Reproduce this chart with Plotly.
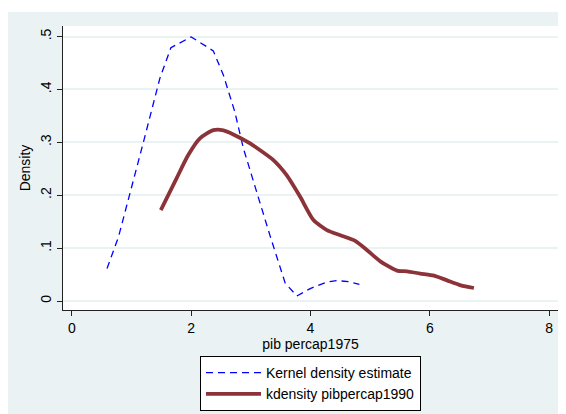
import plotly.graph_objects as go

# Kernel density estimate (pib percap1975)
x_1975 = [0.588, 0.78, 1.193, 1.474, 1.659, 2.0, 2.37, 2.54, 2.73, 2.874, 3.32, 3.575, 3.77, 3.995, 4.275, 4.44, 4.64, 4.82]
y_1975 = [0.0613, 0.121, 0.298, 0.421, 0.479, 0.4994, 0.473, 0.427, 0.358, 0.289, 0.124, 0.034, 0.0095, 0.0235, 0.036, 0.0386, 0.0367, 0.0316]

# kdensity pibpercap1990
x_1990 = [1.49, 1.754, 1.95, 2.146, 2.37, 2.54, 2.706, 2.987, 3.378, 3.6, 3.827, 4.05, 4.275, 4.5, 4.75, 4.95, 5.17, 5.45, 5.62, 5.84, 6.07, 6.29, 6.52, 6.74]
y_1990 = [0.172, 0.232, 0.276, 0.3075, 0.323, 0.3227, 0.315, 0.298, 0.2665, 0.238, 0.197, 0.153, 0.134, 0.1244, 0.1136, 0.096, 0.075, 0.0574, 0.0561, 0.0519, 0.048, 0.039, 0.0297, 0.0246]

x_ticks = [0, 2, 4, 6, 8]
y_ticks = [0, 0.1, 0.2, 0.3, 0.4, 0.5]
y_ticktext = ["0", ".1", ".2", ".3", ".4", ".5"]

FONT = "Arial, 'Liberation Sans', sans-serif"
BG = "#eaf2f3"

fig = go.Figure()
fig.add_trace(go.Scatter(
    x=x_1975, y=y_1975, mode="lines", name="Kernel density estimate",
    line=dict(color="#0000ff", width=1.3, dash="7px,5px"),
))
fig.add_trace(go.Scatter(
    x=x_1990, y=y_1990, mode="lines", name="kdensity pibpercap1990",
    line=dict(color="#8c3339", width=3.8, shape="spline", smoothing=0.6),
))

# page body margin shifts the figure by 8px; target positions are in screenshot pixels
OFF = 8
W, H = 566, 414
L = 63 - OFF
T = 26 - OFF
R = W - (558 - OFF)
B = H - (310 - OFF)
pw, ph = W - L - R, H - T - B

def px2paper_x(px):
    return (px - OFF - L) / pw

def px2paper_y(py):
    return (H - B - (py - OFF)) / ph

fig.update_layout(
    width=W, height=H,
    margin=dict(l=L, r=R, t=T, b=B, pad=0, autoexpand=False),
    paper_bgcolor=BG,
    plot_bgcolor="white",
    font=dict(family=FONT, size=14, color="black"),
    showlegend=True,
    legend=dict(
        x=px2paper_x(310.5), xanchor="center", y=px2paper_y(356), yanchor="top",
        bgcolor="white", bordercolor="black", borderwidth=1,
        font=dict(size=14), itemwidth=55, tracegroupgap=0,
    ),
    xaxis=dict(
        range=[-0.15, 8.15], tickvals=x_ticks, showgrid=False, zeroline=False,
        showline=True, linecolor="#222", linewidth=1, automargin=False,
        ticks="outside", ticklen=5, tickcolor="#222", tickfont=dict(size=14),
        title=dict(text="pib percap1975", standoff=0, font=dict(size=14)),
    ),
    yaxis=dict(
        range=[-0.017, 0.520], tickvals=y_ticks, ticktext=y_ticktext, tickangle=-90,
        showgrid=True, gridcolor=BG, gridwidth=1.5, zeroline=False,
        showline=True, linecolor="#222", linewidth=1, automargin=False,
        ticks="outside", ticklen=5, tickcolor="#222", tickfont=dict(size=14),
        title=dict(text="Density", standoff=4, font=dict(size=14)),
    ),
    shapes=[
        dict(type="rect", xref="paper", yref="paper", layer="above",
             x0=px2paper_x(-20), x1=px2paper_x(W + 20), y0=px2paper_y(12), y1=px2paper_y(-20),
             fillcolor="white", line=dict(width=0)),
    ],
)

fig.write_html("out.html")
